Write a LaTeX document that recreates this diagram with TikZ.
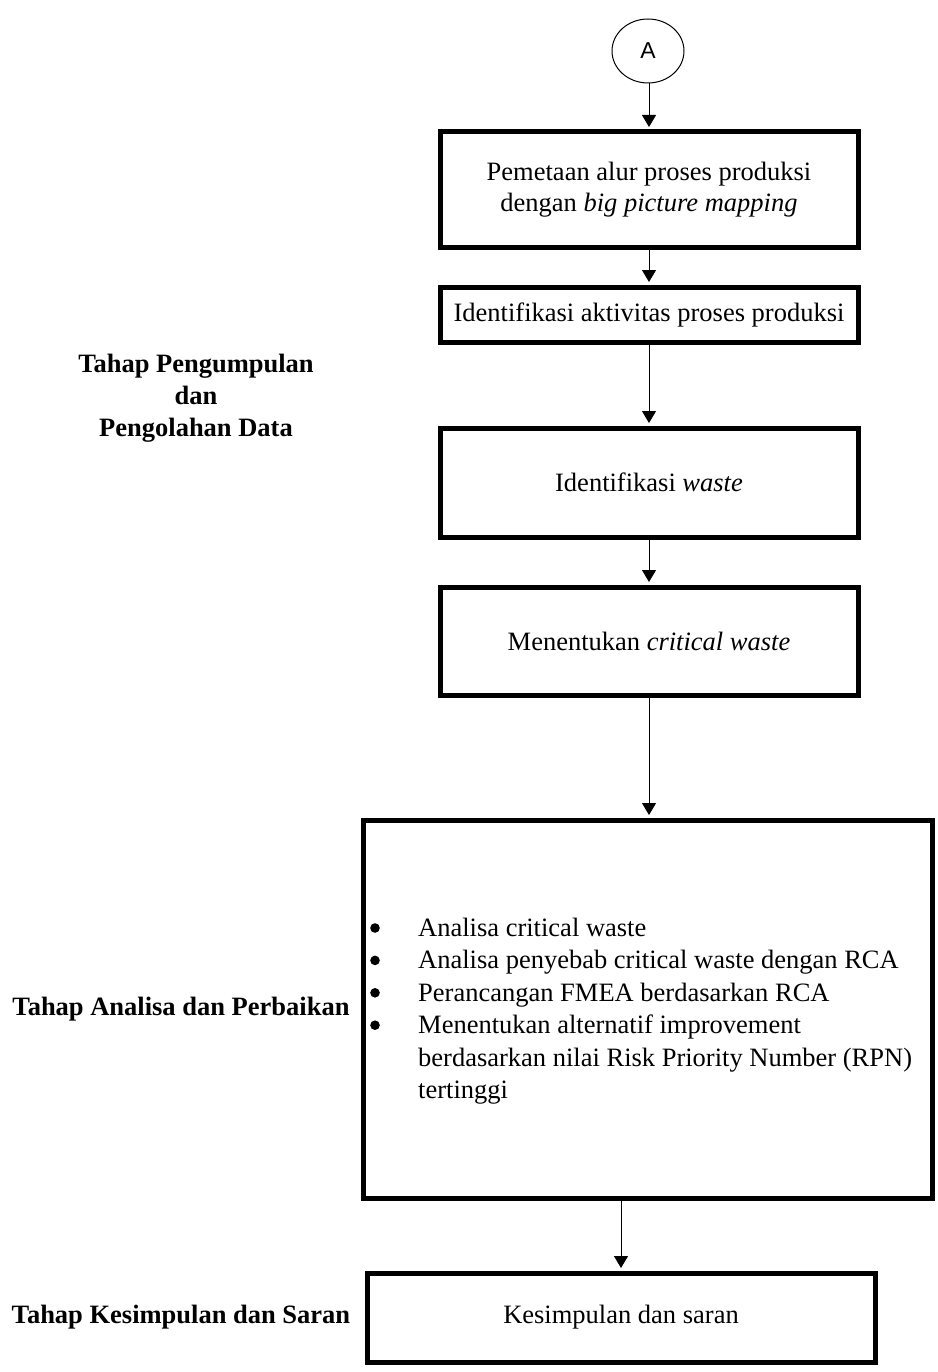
\documentclass[tikz,border=0pt]{standalone}
\usepackage{fontspec}
\setmainfont{Liberation Serif}
\newfontfamily\labelsans{Liberation Sans}
\usetikzlibrary{arrows.meta,shapes.geometric}
\usepackage{array}

\tikzset{
  stepbox/.style={draw=black, line width=5pt, rectangle, inner sep=0pt,
    align=center, font=\fontsize{26.5}{31}\selectfont},
  phase/.style={align=center, inner sep=0pt,
    font=\fontsize{26.5}{32}\selectfont\bfseries},
  flow/.style={line width=1pt, -{Triangle[length=12pt,width=14pt]}, shorten >=2.5pt},
  connector/.style={draw=black, line width=1pt, ellipse, inner sep=0pt,
    minimum width=72pt, minimum height=64pt, font=\labelsans\fontsize{23}{27}\selectfont},
  itemdot/.style={fill=black}
}

\begin{document}
\begin{tikzpicture}[x=1pt,y=-1pt]
  \useasboundingbox[fill=white] (0,0) rectangle (937,1372);

  % off-page connector
  \node[connector] (conA) at (648,51) {A};

  % process boxes
  \node[stepbox, minimum width=418pt, minimum height=116pt] (map) at (649,190)
    {Pemetaan alur proses produksi\\dengan \textit{big picture mapping}};
  \node[stepbox, minimum width=418pt, minimum height=55pt] (act) at (649,314.5)
    {Identifikasi aktivitas proses produksi};
  \node[stepbox, minimum width=418pt, minimum height=109pt] (waste) at (649,482.5)
    {Identifikasi \textit{waste}};
  \node[stepbox, minimum width=418pt, minimum height=108pt] (crit) at (649,641)
    {Menentukan \textit{critical waste}};
  \node[stepbox, minimum width=569pt, minimum height=378pt] (anal) at (647.5,1009) {};
  \node[stepbox, minimum width=508pt, minimum height=89pt] (concl) at (621,1317.5)
    {Kesimpulan dan saran};

  % item list inside the analysis box
  \node[anchor=west, inner sep=0pt, font=\fontsize{26.5}{32.4}\selectfont] (list) at (418,1011)
    {\begin{tabular}{@{}l@{}}
      Analisa critical waste\\
      Analisa penyebab critical waste dengan RCA\\
      Perancangan FMEA berdasarkan RCA\\
      Menentukan alternatif improvement\\
      berdasarkan nilai Risk Priority Number (RPN)\\
      tertinggi
    \end{tabular}};
  % list bullets
  \foreach \k in {0,1,2,3}
    \fill[itemdot] (375,928+32.4*\k) circle (4.8pt);

  % phase labels
  \node[phase] (ph1) at (196,398) {Tahap Pengumpulan\\dan\\Pengolahan Data};
  \node[phase] (ph2) at (181,1009) {Tahap Analisa dan Perbaikan};
  \node[phase] (ph3) at (181,1317) {Tahap Kesimpulan dan Saran};

  % flow arrows
  \draw[flow] (conA.south -| map.north) -- (map.north);
  \draw[flow] (map.south) -- (act.north);
  \draw[flow] (act.south) -- (waste.north);
  \draw[flow] (waste.south) -- (crit.north);
  \draw[flow] (crit.south) -- (crit.south |- anal.north);
  \draw[flow] (anal.south -| concl.north) -- (concl.north);
\end{tikzpicture}
\end{document}
